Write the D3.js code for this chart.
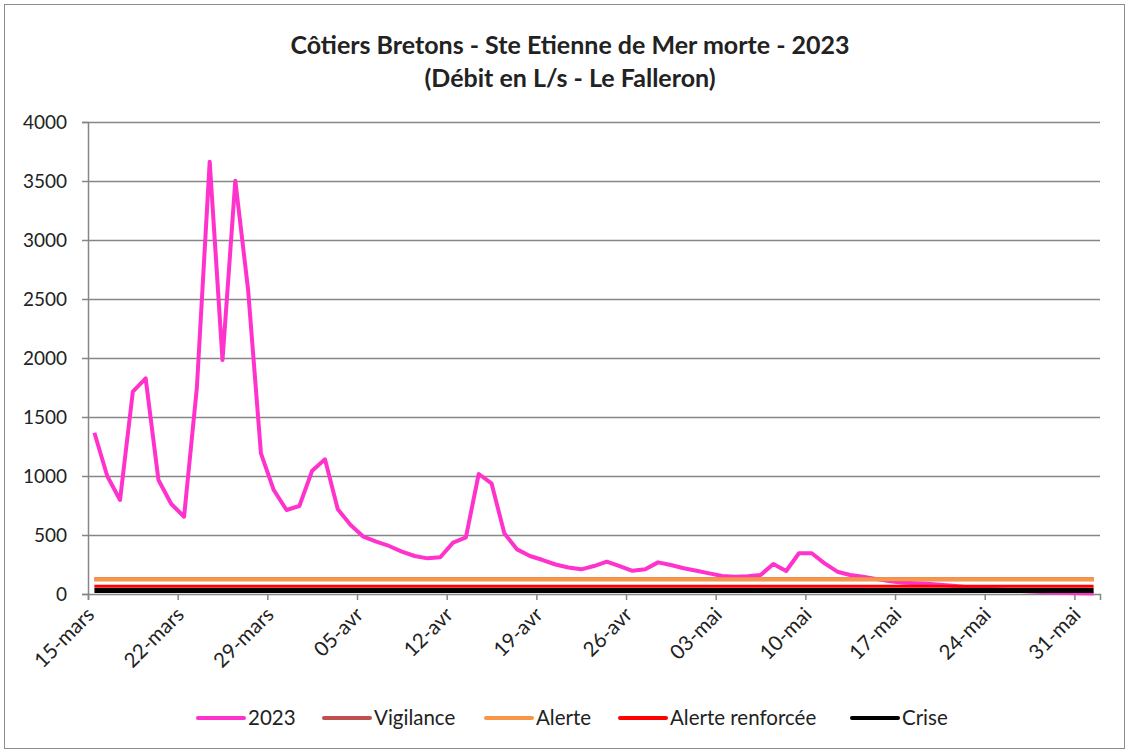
<!DOCTYPE html>
<html>
<head>
<meta charset="utf-8">
<script src="https://cdn.jsdelivr.net/npm/d3@7"></script>
<style>
  body { margin: 0; background: #fff; }
  svg text { font-family: Lato, "Open Sans", sans-serif; fill: #222; }
</style>
</head>
<body>
<div id="chart"></div>
<script>
// daily flow, L/s, from 15 March 2023
const startDate = Date.UTC(2023, 2, 15);
const flow2023 = [1367, 1000, 797, 1715, 1828, 966, 763, 655, 1750, 3664,
  1983, 3503, 2576, 1192, 881, 712, 746, 1045, 1141, 718,
  585, 486, 443, 407, 359, 322, 302, 311, 435, 480,
  1017, 938, 514, 378, 322, 288, 250, 225, 209, 237,
  274, 237, 197, 209, 268, 246, 218, 197, 175, 153,
  147, 150, 161, 254, 195, 345, 345, 260, 189, 161,
  147, 128, 110, 98, 92, 86, 78, 70, 60, 50,
  42, 35, 28, 22, 16, 11, 8, 6, 5];
// thresholds
const thresholds = [
  {name: 'Vigilance', value: 125, color: '#c0504d'},
  {name: 'Alerte', value: 125, color: '#f79646'},
  {name: 'Alerte renforcée', value: 65, color: '#ff0000'},
  {name: 'Crise', value: 30, color: '#000000'}
];
const yTicks = [0, 500, 1000, 1500, 2000, 2500, 3000, 3500, 4000];
const xTickLabels = ['15-mars', '22-mars', '29-mars', '05-avr', '12-avr', '19-avr',
  '26-avr', '03-mai', '10-mai', '17-mai', '24-mai', '31-mai'];

const width = 1130, height = 754;
const plotLeft = 88, plotRight = 1100, plotTop = 122, plotBottom = 594;

const svg = d3.select('#chart').append('svg')
  .attr('width', width)
  .attr('height', height);

svg.append('rect')
  .attr('x', 4.5).attr('y', 4.5)
  .attr('width', 1120).attr('height', 744)
  .attr('fill', '#fff')
  .attr('stroke', '#8c8c8c')
  .attr('stroke-width', 1);

const day = d => d3.utcDay.offset(new Date(startDate), d);
const xScale = d3.scaleUtc()
  .domain([day(0), day(79)])
  .range([plotLeft, plotRight]);
const yScale = d3.scaleLinear()
  .domain([0, 4000])
  .range([plotBottom, plotTop]);

// mid-day positions like an Excel date axis
const xPos = i => xScale(new Date(startDate + (i + 0.5) * 864e5));

// gridlines + y axis
const yAxis = d3.axisLeft(yScale).tickValues(yTicks).tickSize(6).tickPadding(15)
  .tickFormat(d3.format('d'));
const yg = svg.append('g')
  .attr('transform', 'translate(' + plotLeft + ',0)')
  .call(yAxis);
yg.select('.domain').attr('stroke', '#868686').attr('stroke-width', 1.5);
yg.selectAll('.tick line').attr('stroke', '#868686').attr('stroke-width', 1.5);
yg.selectAll('.tick text').style('font-size', '19px').attr('fill', '#222');
yg.selectAll('.tick').filter(d => d > 0).append('line')
  .attr('x1', 0).attr('x2', plotRight - plotLeft)
  .attr('stroke', '#868686').attr('stroke-width', 1.5);

// x axis
const tickDates = xTickLabels.map((t, k) => day(7 * k));
const xAxis = d3.axisBottom(xScale).tickValues(tickDates).tickSize(6)
  .tickFormat((d, k) => xTickLabels[k]);
const xg = svg.append('g')
  .attr('transform', 'translate(0,' + plotBottom + ')')
  .call(xAxis);
xg.select('.domain').attr('stroke', '#868686').attr('stroke-width', 1.5);
xg.selectAll('.tick line').attr('stroke', '#868686').attr('stroke-width', 1.5);
xg.selectAll('.tick text')
  .style('font-size', '20.5px')
  .attr('fill', '#222')
  .attr('text-anchor', 'end')
  .attr('dy', '0.35em')
  .attr('transform', 'translate(2,17) rotate(-45)')
  .attr('x', 0).attr('y', 0);

// 2023 series
const line = d3.line()
  .x((d, i) => xPos(i))
  .y(d => yScale(d));
svg.append('path')
  .datum(flow2023)
  .attr('d', line)
  .attr('fill', 'none')
  .attr('stroke', '#ff33cc')
  .attr('stroke-width', 4)
  .attr('stroke-linejoin', 'round');

// threshold lines, drawn over the series like the source
const lastX = xPos(flow2023.length - 1);
const widths = {'Vigilance': 4, 'Alerte': 4, 'Alerte renforcée': 3, 'Crise': 5};
thresholds.forEach(t => {
  svg.append('line')
    .attr('x1', xPos(0)).attr('x2', lastX)
    .attr('y1', yScale(t.value)).attr('y2', yScale(t.value))
    .attr('stroke', t.color)
    .attr('stroke-width', widths[t.name]);
});

// title
const title = svg.append('text')
  .attr('text-anchor', 'middle')
  .style('font-size', '25px')
  .style('font-weight', 'bold');
title.append('tspan').attr('x', 570).attr('y', 54)
  .text('Côtiers Bretons - Ste Etienne de Mer morte - 2023');
title.append('tspan').attr('x', 570).attr('y', 87)
  .text('(Débit en L/s - Le Falleron)');

// legend
const legendItems = [
  {name: '2023', color: '#ff33cc', x: 198},
  {name: 'Vigilance', color: '#c0504d', x: 324},
  {name: 'Alerte', color: '#f79646', x: 486},
  {name: 'Alerte renforcée', color: '#ff0000', x: 620},
  {name: 'Crise', color: '#000000', x: 852}
];
const lg = svg.append('g');
legendItems.forEach(it => {
  lg.append('line')
    .attr('x1', it.x).attr('x2', it.x + 46)
    .attr('y1', 718).attr('y2', 718)
    .attr('stroke', it.color).attr('stroke-width', 4)
    .attr('stroke-linecap', 'round');
  lg.append('text')
    .attr('x', it.x + 50).attr('y', 725)
    .style('font-size', '20.5px')
    .text(it.name);
});
</script>
</body>
</html>
